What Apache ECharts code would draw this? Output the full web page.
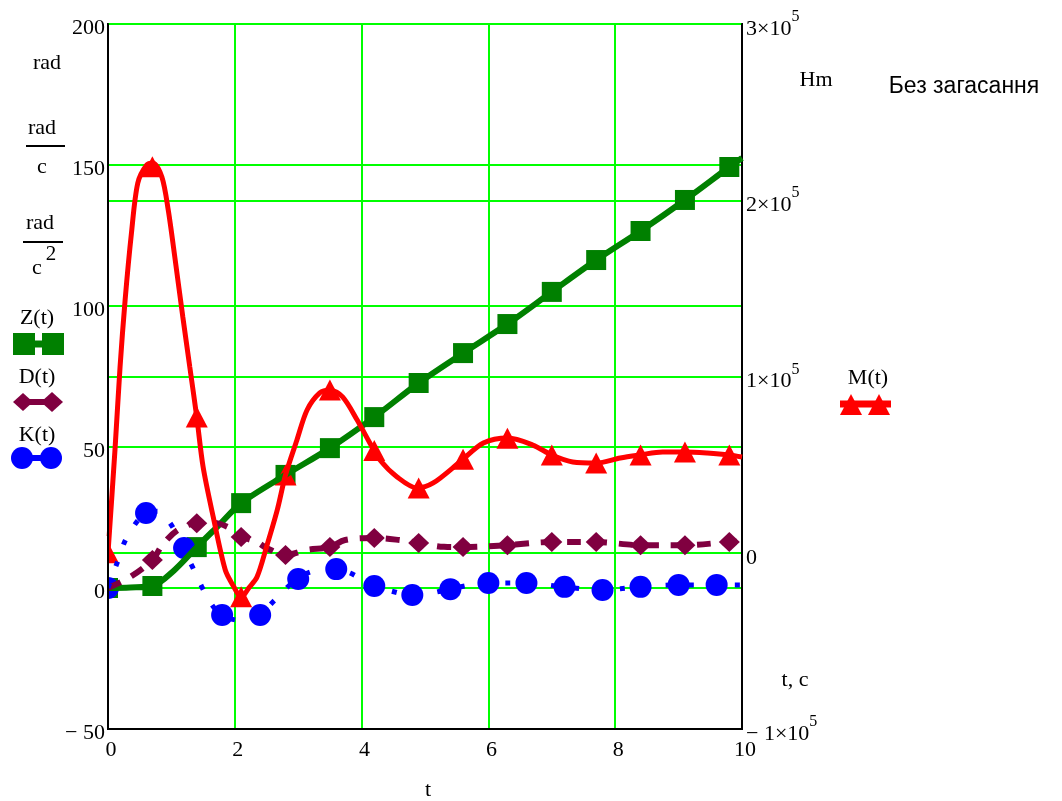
<!DOCTYPE html>
<html>
<head>
<meta http-equiv="content-type" content="text/html; charset=utf-8"/>
<title>Без загасання</title>
<style type="text/css">
    html, body { margin: 0; padding: 0; background: #fff; }
    #chart { width: 1062px; height: 801px; }
</style>
<script type="text/javascript" src="https://cdn.jsdelivr.net/npm/echarts@6/dist/echarts.min.js"></script>
</head>
<body>
<div id="chart"></div>
<script>
    // x axis ticks
    var tTicks = [0, 2, 4, 6, 8, 10];

    // Z(t) angle, rad  (left axis)
    var zT   = [0, 0.35, 0.7, 1.05, 1.4, 1.75, 2.1, 2.8, 3.5, 4.2, 4.9, 5.6, 6.3, 7.0, 7.7, 8.4, 9.1, 9.8, 10];
    var zVal = [0, 0.2, 0.7, 6.4, 14.5, 22.3, 30.1, 40.1, 49.6, 60.6, 72.7, 83.3, 93.6, 105, 116.3, 126.6, 137.6, 149.3, 152.5];
    var zMarkT   = [0, 0.7, 1.4, 2.1, 2.8, 3.5, 4.2, 4.9, 5.6, 6.3, 7.0, 7.7, 8.4, 9.1, 9.8];
    var zMarkVal = [0, 0.7, 14.5, 30.1, 40.1, 49.6, 60.6, 72.7, 83.3, 93.6, 105, 116.3, 126.6, 137.6, 149.3];

    // D(t) angular velocity, rad/c  (left axis)
    var dT   = [0, 0.35, 0.7, 0.85, 1.1, 1.4, 1.65, 1.92, 2.13, 2.35, 2.5, 2.8, 3.14, 3.5, 3.74, 4.2, 4.6, 4.9, 5.3, 5.6, 6.3, 7.0, 7.7, 8.4, 9.1, 9.8, 10];
    var dVal = [0, 3.9, 9.9, 15, 20.6, 23, 23.2, 21.3, 18.1, 16.3, 14.2, 11.7, 13.5, 14.5, 17, 17.7, 17, 16, 14.6, 14.5, 15.2, 16.3, 16.3, 15.2, 15.2, 16.3, 16.5];
    var dMarkT   = [0, 0.7, 1.4, 2.1, 2.8, 3.5, 4.2, 4.9, 5.6, 6.3, 7.0, 7.7, 8.4, 9.1, 9.8];
    var dMarkVal = [0, 9.9, 23, 18.1, 11.7, 14.5, 17.7, 16, 14.5, 15.2, 16.3, 16.3, 15.2, 15.2, 16.3];

    // K(t) angular acceleration, rad/c^2  (left axis)
    var kT   = [0, 0.16, 0.3, 0.6, 0.78, 0.98, 1.18, 1.34, 1.48, 1.64, 1.8, 2.1, 2.38, 2.63, 2.98, 3.3, 3.58, 3.82, 4.18, 4.4, 4.8, 5.1, 5.39, 5.98, 6.59, 7.18, 7.79, 8.39, 8.99, 9.59, 10];
    var kVal = [0, 9.9, 18, 26.6, 27.2, 23, 14.2, 7.1, 0.4, -6, -9.6, -11.5, -9.6, -4.3, 3.2, 6.3, 6.7, 5.3, 0.7, -0.7, -2.5, -1.8, -0.4, 1.8, 1.8, 0.4, -0.7, 0.4, 1.1, 1.1, 1.1];
    var kMarkT   = [0, 0.6, 1.2, 1.8, 2.4, 3.0, 3.6, 4.2, 4.8, 5.4, 6.0, 6.6, 7.2, 7.8, 8.4, 9.0, 9.6];
    var kMarkVal = [0, 26.6, 14.2, -9.6, -9.6, 3.2, 6.7, 0.7, -2.5, -0.4, 1.8, 1.8, 0.4, -0.7, 0.4, 1.1, 1.1];

    // M(t) moment, Hm  (right axis)
    var mT   = [0, 0.11, 0.19, 0.27, 0.37, 0.47, 0.61, 0.71, 0.85, 0.95, 1.06, 1.18, 1.29, 1.40, 1.50, 1.66, 1.85, 1.98, 2.1, 2.22, 2.35, 2.50, 2.67, 2.80, 2.98, 3.14, 3.34, 3.50, 3.70, 3.93, 4.13, 4.29, 4.56, 4.87, 5.13, 5.55, 5.92, 6.31, 6.70, 7.00, 7.33, 7.70, 8.08, 8.39, 8.75, 9.10, 9.45, 9.80, 10];
    var mVal = [0, 58300, 105400, 143400, 181400, 209800, 220000, 221100, 213200, 194500, 166100, 133800, 105400, 77000, 48700, 20300, -9800, -19000, -25500, -20000, -13800, 3300, 24300, 44100, 64000, 81000, 90700, 92400, 88400, 75300, 62300, 52600, 43000, 36800, 39600, 51500, 62300, 65100, 61100, 55500, 51500, 50900, 53800, 55500, 57200, 57200, 56600, 55500, 54300];
    var mMarkT   = [0, 0.7, 1.4, 2.1, 2.8, 3.5, 4.2, 4.9, 5.6, 6.3, 7.0, 7.7, 8.4, 9.1, 9.8];
    var mMarkVal = [0, 219000, 77000, -25000, 44100, 92400, 58000, 36800, 53000, 65000, 55500, 50900, 55500, 57200, 55500];

    var SERIF = '"Liberation Serif", "Times New Roman", serif';
    var GREEN = '#008000', MAROON = '#800040', BLUE = '#0000ff', RED = '#ff0000', GRID = '#00ff00';

    function pairs(xs, ys){
        var out = [];
        for (var i = 0; i < xs.length; i++) out.push([xs[i], ys[i]]);
        return out;
    }

    function txt(x, y, s, size, font){
        return {
            type: 'text', x: x, y: y, silent: true,
            style: { text: s, font: (size || 22) + 'px ' + (font || SERIF), fill: '#000',
                     align: 'center', verticalAlign: 'middle', textAlign: 'center', textVerticalAlign: 'middle' }
        };
    }
    function hline(x1, x2, y, color, w){
        return { type: 'line', silent: true, shape: { x1: x1, y1: y, x2: x2, y2: y },
                 style: { stroke: color, lineWidth: w } };
    }
    function box(x, y, w, h, color){
        return { type: 'rect', silent: true, shape: { x: x, y: y, width: w, height: h }, style: { fill: color } };
    }
    function diamond(cx, cy, rx, ry, color){
        return { type: 'polygon', silent: true,
                 shape: { points: [[cx, cy - ry], [cx + rx, cy], [cx, cy + ry], [cx - rx, cy]] }, style: { fill: color } };
    }
    function tri(cx, top, bottom, half, color){
        return { type: 'polygon', silent: true,
                 shape: { points: [[cx, top], [cx + half, bottom], [cx - half, bottom]] }, style: { fill: color } };
    }
    function dot(cx, cy, r, color){
        return { type: 'circle', silent: true, shape: { cx: cx, cy: cy, r: r }, style: { fill: color } };
    }

    var chart = echarts.init(document.getElementById('chart'), null, { renderer: 'canvas' });

    var leftLabel = function(v){ return v < 0 ? '\u2212 ' + Math.abs(v) : String(v); };

    // white strip left of the plot: markers at t = 0 are cut at the axis, as in Mathcad
    var mask = box(90, 536, 17, 70, '#fff');
    mask.z = 5;

    var option = {
        animation: false,
        backgroundColor: '#fff',
        grid: { left: 108, right: 320, top: 24, bottom: 72, show: true, borderColor: '#000', borderWidth: 2 },
        xAxis: {
            type: 'value', min: tTicks[0], max: tTicks[tTicks.length - 1], interval: 2,
            axisLine: { show: true, onZero: false, lineStyle: { color: '#000', width: 2 } },
            axisTick: { show: false },
            axisLabel: { color: '#000', fontFamily: SERIF, fontSize: 22, margin: 10, padding: [0, 0, 0, 6] },
            splitLine: { show: true, lineStyle: { color: GRID, width: 2 } }
        },
        yAxis: [
            {   // left value axis: grid lines only
                type: 'value', min: -50, max: 200, interval: 50,
                axisLine: { show: false }, axisTick: { show: false }, axisLabel: { show: false },
                splitLine: { show: true, lineStyle: { color: GRID, width: 2 } }
            },
            {
                type: 'value', position: 'right', min: -100000, max: 300000, interval: 100000,
                axisLine: { show: true, onZero: false, lineStyle: { color: '#000', width: 2 } },
                axisTick: { show: false },
                axisLabel: {
                    color: '#000', fontFamily: SERIF, fontSize: 22, margin: 4, padding: [10, 0, 0, 0],
                    formatter: function(v){
                        if (v === 0) return '{b|0}';
                        var m = v / 100000;
                        return '{b|' + (m < 0 ? '\u2212 ' : '') + Math.abs(m) + '\u00d710}{s|5}';
                    },
                    rich: {
                        b: { fontFamily: SERIF, fontSize: 22, color: '#000', lineHeight: 40 },
                        s: { fontFamily: SERIF, fontSize: 16, color: '#000', lineHeight: 16, verticalAlign: 'top' }
                    }
                },
                splitLine: { show: true, lineStyle: { color: GRID, width: 2 } }
            },
            {   // left axis line and labels, drawn above the series
                type: 'value', position: 'left', min: -50, max: 200, interval: 50, z: 10,
                axisLine: { show: true, onZero: false, lineStyle: { color: '#000', width: 2 } },
                axisTick: { show: false },
                axisLabel: {
                    color: '#000', fontFamily: SERIF, fontSize: 22, margin: 3,
                    verticalAlign: 'top', lineHeight: 8, formatter: leftLabel
                },
                splitLine: { show: false }
            }
        ],
        series: [
            { name: 'Z(t)', type: 'line', yAxisIndex: 0, data: pairs(zT, zVal), showSymbol: false, smooth: 0.3,
              lineStyle: { color: GREEN, width: 6 } },
            { name: 'Z(t) pts', type: 'scatter', yAxisIndex: 0, data: pairs(zMarkT, zMarkVal), symbol: 'rect',
              symbolSize: 20, itemStyle: { color: GREEN, opacity: 1 } },

            { name: 'D(t)', type: 'line', yAxisIndex: 0, data: pairs(dT, dVal), showSymbol: false, smooth: 0.35,
              lineStyle: { color: MAROON, width: 6, type: [14, 12] } },
            { name: 'D(t) pts', type: 'scatter', yAxisIndex: 0, data: pairs(dMarkT, dMarkVal), symbol: 'diamond',
              symbolSize: [21, 20], itemStyle: { color: MAROON, opacity: 1 } },

            { name: 'K(t)', type: 'line', yAxisIndex: 0, data: pairs(kT, kVal), showSymbol: false, smooth: 0.35,
              lineStyle: { color: BLUE, width: 5, type: [5, 18] } },
            { name: 'K(t) pts', type: 'scatter', yAxisIndex: 0, data: pairs(kMarkT, kMarkVal), symbol: 'circle',
              symbolSize: 22, itemStyle: { color: BLUE, opacity: 1 } },

            { name: 'M(t)', type: 'line', yAxisIndex: 1, data: pairs(mT, mVal), showSymbol: false, smooth: 0.3,
              lineStyle: { color: RED, width: 5 } },
            { name: 'M(t) pts', type: 'scatter', yAxisIndex: 1, data: pairs(mMarkT, mMarkVal), symbol: 'triangle',
              symbolSize: [22, 21], itemStyle: { color: RED, opacity: 1 } }
        ],
        graphic: [
            mask,
            // left axis units
            txt(47, 63, 'rad'),
            txt(42, 128, 'rad'), hline(26, 65, 146, '#000', 2), txt(42, 167, 'c'),
            txt(40, 223, 'rad'), hline(23, 63, 242, '#000', 2), txt(37, 268, 'c'), txt(51, 254, '2', 21),
            // legend left
            txt(37, 318, 'Z(t)'),
            hline(24, 52, 344, GREEN, 7), box(13, 333, 22, 22, GREEN), box(42, 333, 22, 22, GREEN),
            txt(37, 377, 'D(t)'),
            hline(24, 50, 402, MAROON, 6), diamond(23, 402, 10, 9, MAROON), diamond(52, 402, 11, 10, MAROON),
            txt(37, 435, 'K(t)'),
            hline(24, 50, 458, BLUE, 6), dot(22, 458, 11, BLUE), dot(51, 458, 11, BLUE),
            // right side texts
            txt(816, 80, 'Hm'),
            txt(964, 87, 'Без загасання', 23, '"Liberation Sans", Arial, sans-serif'),
            txt(868, 378, 'M(t)'),
            hline(840, 891, 404, RED, 7), tri(851, 394, 415, 11, RED), tri(879, 394, 415, 11, RED),
            txt(795, 680, 't, c'),
            // x axis title
            txt(428, 790, 't')
        ]
    };

    chart.setOption(option);
</script>
</body>
</html>
